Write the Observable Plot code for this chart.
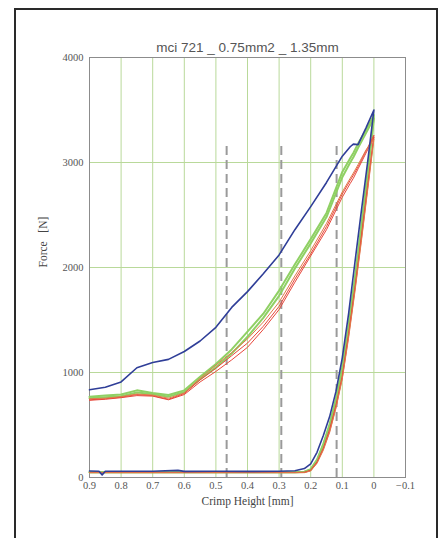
<!DOCTYPE html>
<html><head><meta charset="utf-8">
<script src="https://cdn.jsdelivr.net/npm/d3@7"></script>
<script src="https://cdn.jsdelivr.net/npm/@observablehq/plot@0.6"></script>
<style>
html,body{margin:0;padding:0;background:#fff;}
#wrap{position:relative;width:439px;height:538px;overflow:hidden;background:#fff;}
#border{position:absolute;left:14px;top:8px;width:424px;height:620px;border:2px solid #2a2a2a;box-sizing:border-box;}
#chart{position:absolute;left:0;top:0;}
</style></head><body>
<div id="wrap"><div id="border"></div><div id="chart"></div></div>
<script>
// ---- data ----
const titleText = "mci 721 _ 0.75mm2 _ 1.35mm";
const xLabelText = "Crimp Height [mm]";
const yLabelText = "Force   [N]";

const xTicks = [0.9, 0.8, 0.7, 0.6, 0.5, 0.4, 0.3, 0.2, 0.1, 0, -0.1];
const xTickLabels = ["0.9", "0.8", "0.7", "0.6", "0.5", "0.4", "0.3", "0.2", "0.1", "0", "\u22120.1"];
const yTicks = [0, 1000, 2000, 3000, 4000];
const yTickLabels = ["0", "1000", "2000", "3000", "4000"];
const xGrid = [0.8, 0.7, 0.6, 0.5, 0.4, 0.3, 0.2, 0.1, 0];
const yGrid = [1000, 2000, 3000];
const dashX = [0.466, 0.293, 0.118];
const dashTop = 3200;

// upper (loaded) branch, from 0.9 mm down to 0 mm
const upperX = [0.9, 0.85, 0.8, 0.75, 0.7, 0.65, 0.6, 0.55, 0.5, 0.45, 0.4, 0.35, 0.3, 0.25, 0.2, 0.15, 0.1, 0.075, 0.065, 0.05, 0.025, 0];
const blueUpper   = [835, 860, 910, 1045, 1095, 1125, 1200, 1300, 1430, 1620, 1770, 1940, 2120, 2360, 2580, 2810, 3060, 3150, 3175, 3170, 3330, 3500];
const greenUpperA = [770, 780, 790, 830, 805, 785, 830, 960, 1080, 1220, 1390, 1560, 1780, 2030, 2270, 2520, 2910, 3040, 3090, 3180, 3310, 3450];
const greenUpperB = [755, 765, 775, 810, 795, 770, 815, 935, 1050, 1180, 1340, 1520, 1730, 1990, 2230, 2480, 2860, 3000, 3050, 3140, 3280, 3420];
const redUpperA   = [740, 750, 765, 790, 780, 745, 800, 930, 1040, 1160, 1280, 1440, 1630, 1890, 2130, 2390, 2700, 2830, 2880, 2960, 3110, 3260];
const redUpperB   = [735, 745, 760, 780, 775, 740, 790, 910, 1010, 1120, 1240, 1410, 1600, 1860, 2110, 2360, 2670, 2800, 2850, 2940, 3090, 3240];
const redUpperC   = [750, 755, 770, 795, 785, 755, 805, 945, 1070, 1190, 1320, 1480, 1670, 1920, 2160, 2420, 2720, 2850, 2900, 2980, 3120, 3220];

// lower (steep) branch, from 0 mm back to 0.9 mm
const lowerX = [0, 0.02, 0.04, 0.06, 0.08, 0.1, 0.12, 0.14, 0.16, 0.18, 0.2, 0.22, 0.25, 0.3, 0.4, 0.5, 0.6, 0.62, 0.7, 0.8, 0.85, 0.86, 0.87, 0.9];
const blueLower   = [3500, 3000, 2530, 2050, 1560, 1140, 820, 580, 400, 240, 130, 85, 65, 60, 58, 60, 58, 68, 60, 60, 60, 25, 60, 62];
const greenLowerA = [3450, 2900, 2390, 1900, 1450, 1050, 750, 510, 320, 170, 80, 55, 50, 50, 50, 50, 50, 50, 50, 50, 50, 50, 50, 50];
const greenLowerB = [3420, 2870, 2360, 1880, 1430, 1030, 730, 490, 310, 160, 75, 52, 50, 50, 50, 50, 50, 50, 50, 50, 50, 50, 50, 50];
const redLowerA   = [3260, 2780, 2290, 1810, 1370, 970, 690, 460, 280, 150, 70, 50, 48, 48, 48, 48, 48, 48, 48, 48, 48, 48, 48, 48];
const redLowerB   = [3240, 2750, 2260, 1790, 1350, 950, 670, 440, 270, 140, 65, 48, 47, 47, 47, 47, 47, 47, 47, 47, 47, 47, 47, 47];
const redLowerC   = [3220, 2730, 2240, 1770, 1330, 940, 660, 430, 260, 135, 62, 46, 46, 46, 46, 46, 46, 46, 46, 46, 46, 46, 46, 46];

// ---- build rows ----
function trace(name, up, low) {
  const rows = [];
  upperX.forEach((x, i) => rows.push({trace: name, x, f: up[i]}));
  lowerX.forEach((x, i) => rows.push({trace: name, x, f: low[i]}));
  return rows;
}
const greens = [...trace("gA", greenUpperA, greenLowerA), ...trace("gB", greenUpperB, greenLowerB)];
const reds = [...trace("rA", redUpperA, redLowerA), ...trace("rB", redUpperB, redLowerB)];
const oranges = trace("rC", redUpperC, redLowerC);
const blues = trace("b", blueUpper, blueLower);

const serif = "'Liberation Serif', 'DejaVu Serif', serif";
const gridColor = "#b9d99a";
const chart = Plot.plot({
  width: 439,
  height: 538,
  marginLeft: 89,
  marginRight: 34,
  marginTop: 57,
  marginBottom: 61,
  style: {background: "transparent", fontFamily: serif, fontSize: "10.5px", color: "#555"},
  x: {domain: [-0.1, 0.9], reverse: true},
  y: {domain: [0, 4000]},
  marks: [
    Plot.ruleX(xGrid, {stroke: gridColor, strokeWidth: 1}),
    Plot.ruleY(yGrid, {stroke: gridColor, strokeWidth: 1}),
    Plot.frame({stroke: "#8c8c8c"}),
    Plot.ruleX(dashX, {y1: 0, y2: dashTop, stroke: "#9a9a9a", strokeWidth: 2, strokeDasharray: "9,5"}),
    Plot.line(greens, {x: "x", y: "f", z: "trace", stroke: "#8fd064", strokeWidth: 2}),
    Plot.line(reds, {x: "x", y: "f", z: "trace", stroke: "#e8473b", strokeWidth: 1}),
    Plot.line(oranges, {x: "x", y: "f", z: "trace", stroke: "#e07a4a", strokeWidth: 1}),
    Plot.line(blues, {x: "x", y: "f", z: "trace", stroke: "#2f3e98", strokeWidth: 1.6}),
    Plot.axisX({ticks: xTicks, tickSize: 0, tickPadding: 4, tickFormat: (d, i) => xTickLabels[i], label: null, fontFamily: serif, fill: "#555"}),
    Plot.axisY({ticks: yTicks, tickSize: 0, tickPadding: 6, tickFormat: (d, i) => yTickLabels[i], label: null, fontFamily: serif, fill: "#555"}),
    Plot.text([titleText], {frameAnchor: "top", dy: -15, fontFamily: "'Liberation Sans', sans-serif", fontSize: 13.5, fill: "#555"}),
    Plot.text([xLabelText], {frameAnchor: "bottom", dy: 27, fontSize: 11.5, fill: "#444", fontFamily: serif}),
    Plot.text([yLabelText], {frameAnchor: "left", dx: -46, rotate: -90, fontSize: 11.5, fill: "#444", fontFamily: serif})
  ]
});
document.getElementById("chart").appendChild(chart);
</script>
</body></html>
